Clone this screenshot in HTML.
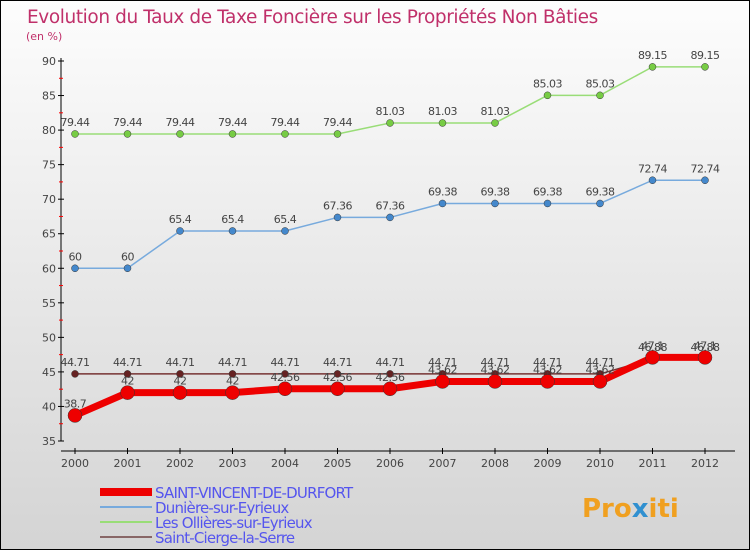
<!DOCTYPE html>
<html><head><meta charset="utf-8"><style>
body{margin:0}
#c{width:750px;height:550px;position:relative;overflow:hidden;background:linear-gradient(#fdfdfd,#d4d4d4);font-family:"DejaVu Sans","Liberation Sans",sans-serif}
</style></head><body>
<div id="c">
<svg id="s" width="750" height="550" xmlns="http://www.w3.org/2000/svg">
<rect x="0.5" y="0.5" width="749" height="549" fill="none" stroke="#000"/>
<text x="27" y="23" font-size="18.5" fill="#c0306a" letter-spacing="-0.4">Evolution du Taux de Taxe Foncière sur les Propriétés Non Bâties</text>
<text x="26" y="40" font-size="11" fill="#c0306a">(en %)</text>
<g id="g"></g>
<text x="582" y="517" font-size="26" font-weight="bold" fill="#f0a020">Pro<tspan fill="#3090d0">x</tspan>iti</text>
</svg></div>
<script>
const years=["2000","2001","2002","2003","2004","2005","2006","2007","2008","2009","2010","2011","2012"];
const yTicks=[35,40,45,50,55,60,65,70,75,80,85,90];
const svSeries=[38.7,42,42,42,42.56,42.56,42.56,43.62,43.62,43.62,43.62,47.1,47.1];
const duSeries=[60,60,65.4,65.4,65.4,67.36,67.36,69.38,69.38,69.38,69.38,72.74,72.74];
const olSeries=[79.44,79.44,79.44,79.44,79.44,79.44,81.03,81.03,81.03,85.03,85.03,89.15,89.15];
const scSeries=[44.71,44.71,44.71,44.71,44.71,44.71,44.71,44.71,44.71,44.71,44.71,46.88,46.88];
const names=["SAINT-VINCENT-DE-DURFORT","Dunière-sur-Eyrieux","Les Ollières-sur-Eyrieux","Saint-Cierge-la-Serre"];
const X=i=>75+i*52.5, Y=v=>441-(v-35)*(380/55);
const g=document.getElementById('g');const NS="http://www.w3.org/2000/svg";
function mk(t,a,p){const e=document.createElementNS(NS,t);for(const k in a)e.setAttribute(k,a[k]);(p||g).appendChild(e);return e;}
let e=mk('line',{x1:61,y1:58,x2:61,y2:441,stroke:'#000'});


e=mk('line',{x1:61,y1:451,x2:735,y2:451,stroke:'#000'});


yTicks.forEach(v=>{
 mk('line',{x1:58,y1:Y(v),x2:64,y2:Y(v),stroke:'#000'});
 if(v<90)mk('line',{x1:59,y1:Y(v+2.5),x2:63,y2:Y(v+2.5),stroke:'#f00'});
 e=mk('text',{x:56,y:Y(v)+4,'font-size':11,fill:'#444','text-anchor':'end'});e.textContent=v;
 
 
});
years.forEach((y,i)=>{
 mk('line',{x1:X(i),y1:448,x2:X(i),y2:454,stroke:'#000'});
 e=mk('text',{x:X(i),y:467,'font-size':11,fill:'#444','text-anchor':'middle'});e.textContent=y;
 
 
});
function series(d,col,w,r,dot,name){
 const pts=d.map((v,i)=>X(i)+','+Y(v)).join(' ');
 e=mk('polyline',{points:pts,fill:'none',stroke:col,'stroke-width':w,'stroke-linejoin':'round'});
 
 
 d.forEach((v,i)=>{
  e=mk('circle',{cx:X(i),cy:Y(v),r:r,fill:dot,stroke:'#333','stroke-width':0.5});
  
  
  e=mk('text',{x:X(i),y:Y(v)-8,'font-size':11,fill:'#444','text-anchor':'middle','letter-spacing':'-0.5'});e.textContent=v;
  
  
 });
}
series(olSeries,'#99dd77',1.5,3.5,'#77cc44','ollieres');
series(duSeries,'#77aadd',1.5,3.5,'#4488cc','duniere');
series(scSeries,'#773333',1.5,3.5,'#662222','saint-cierge');
series(svSeries,'#ee0000',7,7,'#ee0000','saint-vincent');
const lc=['#ee0000','#77aadd','#99dd77','#886666'],lw=[8,2,2,2];
names.forEach((n,i)=>{
 const y=492+i*15;
 e=mk('line',{x1:100,y1:y,x2:152,y2:y,stroke:lc[i],'stroke-width':lw[i]});
 
 
 e=mk('text',{x:155,y:y+6,'font-size':15,fill:'#5555ee','letter-spacing':'-0.8'});e.textContent=n;
 
 
});
</script>
</body></html>
